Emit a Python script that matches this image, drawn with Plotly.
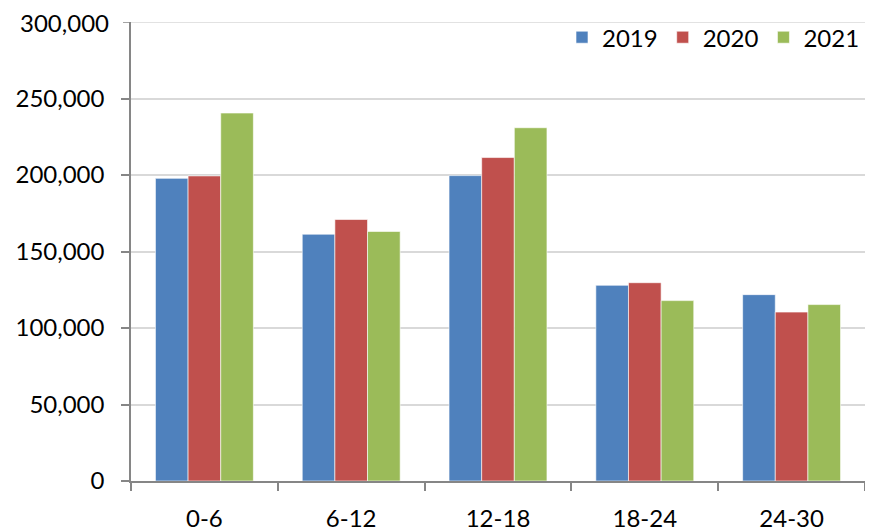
import plotly.graph_objects as go

categories = ["0-6", "6-12", "12-18", "18-24", "24-30"]
years = ["2019", "2020", "2021"]
v2019 = [197800, 161300, 199600, 127900, 121800]
v2020 = [199400, 170900, 211400, 129600, 110400]
v2021 = [240500, 163100, 230900, 117900, 115300]
colors = ["#4F81BD", "#C0504D", "#9BBB59"]
y_ticks = [0, 50000, 100000, 150000, 200000, 250000, 300000]
y_labels = ["0", "50,000", "100,000", "150,000", "200,000", "250,000", "300,000"]

fig = go.Figure()
for name, vals, c in zip(years, [v2019, v2020, v2021], colors):
    fig.add_trace(go.Bar(
        x=categories, y=vals, name=name,
        marker=dict(color=c, line=dict(color="rgba(255,255,255,0.6)", width=1)),
    ))

font = "Lato, Calibri, 'Open Sans', sans-serif"
ml, mr, mt, mb = 123, 16, 14, 56
plot_w = 873 - ml - mr

# top level (300,000) drawn through the y scale as gridline, tick and label
top_val = y_ticks[-1]
fig.add_shape(type="line", xref="paper", x0=0, x1=1, yref="y", y0=top_val, y1=top_val,
              line=dict(color="#D9D9D9", width=1.5), layer="below")
fig.add_shape(type="line", xref="paper", x0=-8 / plot_w, x1=0, yref="y", y0=top_val, y1=top_val,
              line=dict(color="#868686", width=1.5))
fig.add_annotation(text=y_labels[-1], xref="paper", x=0, xanchor="right", xshift=-20,
                   yref="y", y=top_val, yanchor="middle", showarrow=False,
                   font=dict(family=font, size=24, color="#000000"))

fig.update_layout(
    width=873, height=529,
    margin=dict(l=ml, r=mr, t=mt, b=mb, autoexpand=False),
    paper_bgcolor="white", plot_bgcolor="white",
    barmode="group", bargap=0.333, bargroupgap=0,
    font=dict(family=font, size=24, color="#000000"),
    showlegend=True,
    legend=dict(
        orientation="h", x=1.0, xanchor="right", y=1.015, yanchor="top",
        font=dict(size=24, color="#000000"), bgcolor="rgba(255,255,255,0)",
        itemwidth=30, tracegroupgap=0,
    ),
    xaxis=dict(
        type="category", showgrid=False, automargin=False,
        showline=True, linecolor="#868686", linewidth=1.5,
        ticks="outside", tickson="boundaries", ticklen=8, tickcolor="#868686",
        tickwidth=1.5, ticklabelstandoff=15,
        tickfont=dict(size=24, color="#000000"),
    ),
    yaxis=dict(
        range=[0, top_val], tickvals=y_ticks[:-1], ticktext=y_labels[:-1], automargin=False,
        showgrid=True, gridcolor="#D9D9D9", gridwidth=1.5,
        showline=True, linecolor="#868686", linewidth=1.5,
        ticks="outside", ticklen=8, tickcolor="#868686", tickwidth=1.5,
        ticklabelstandoff=12,
        zeroline=False,
        tickfont=dict(size=24, color="#000000"),
    ),
)

fig.write_html("out.html")
